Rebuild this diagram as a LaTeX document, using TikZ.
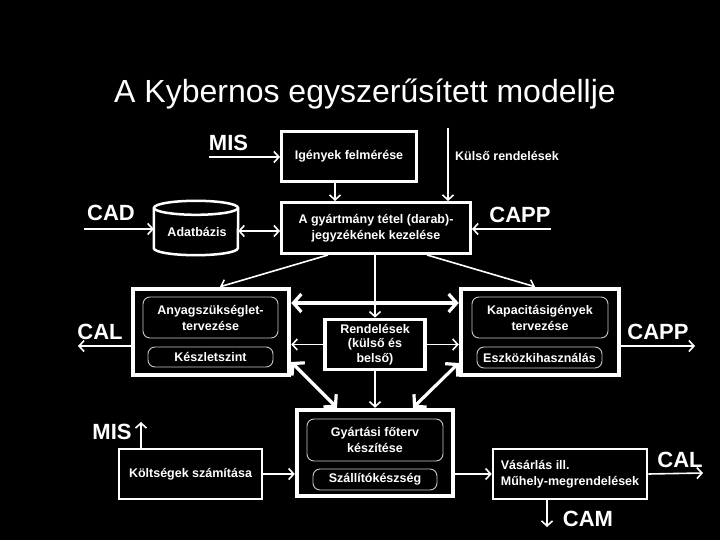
\documentclass[tikz,border=0pt]{standalone}
\usepackage{fontspec}
\setmainfont{Liberation Sans}
\usetikzlibrary{arrows.meta}
\definecolor{KBInner}{HTML}{C8C8C8}

\tikzset{
  kbtext/.style={text=white,font=\bfseries\fontsize{12.5}{16}\selectfont,align=center,inner sep=0pt},
  kbbox/.style={kbtext,draw=white,line width=3pt},
  kbbig/.style={draw=white,line width=4.5pt,inner sep=0pt},
  kbinner/.style={kbtext,draw=KBInner,line width=0.9pt,rounded corners=7pt},
  kblabel/.style={text=white,font=\bfseries\fontsize{22}{24}\selectfont,inner sep=0pt},
  kbarrow/.style={white,line width=1.6pt,-{Straight Barb[length=5pt,width=11pt]}},
  kbdouble/.style={white,line width=1.6pt,{Straight Barb[length=5pt,width=11pt]}-{Straight Barb[length=5pt,width=11pt]}},
  kbthick/.style={white,line width=3.2pt,{Straight Barb[length=8pt,width=18pt]}-{Straight Barb[length=8pt,width=18pt]}},
}

\begin{document}
\begin{tikzpicture}[x=1pt,y=-1pt]
\fill[black] (0,0) rectangle (720,540);
\useasboundingbox (0,0) rectangle (720,540);

% title
\node[text=white,font=\fontsize{32}{36}\selectfont,anchor=base,inner sep=0pt] (title) at (365,103) {A Kybernos egyszerűsített modellje};

% upper row
\node[kbbox,minimum width=135pt,minimum height=50pt] (igeny) at (349,156.5) {Igények felmérése};
\node[kbbox,minimum width=189pt,minimum height=51pt] (bom) at (376,228) {A gyártmány tétel (darab)-\\jegyzékének kezelése};
\node[minimum width=84pt,minimum height=40pt,inner sep=0pt] (db) at (196,228) {};
\draw[white,line width=2.5pt] (db.north west) -- (db.south west)
  arc[start angle=180,end angle=360,x radius=42pt,y radius=7pt] -- (db.north east);
\draw[white,line width=2.5pt] (db.north) ellipse[x radius=42pt,y radius=7pt];
\node[kbtext] (dbtext) at (197,232) {Adatbázis};
\node[kbtext,anchor=west] (kulso) at (455,156) {Külső rendelések};

% middle row
\node[kbbig,minimum width=156pt,minimum height=86pt] (anyag) at (211,332) {};
\node[kbinner,minimum width=135pt,minimum height=41pt] (anyagterv) at (210.5,317.5) {Anyagszükséglet-\\tervezése};
\node[kbinner,minimum width=125pt,minimum height=20pt] (keszlet) at (210.5,357) {Készletszint};
\node[kbbig,minimum width=158pt,minimum height=86pt] (kapac) at (540,332) {};
\node[kbinner,minimum width=136pt,minimum height=41pt] (kapacterv) at (540,317.5) {Kapacitásigények\\tervezése};
\node[kbinner,minimum width=125pt,minimum height=21pt] (eszkoz) at (539.5,357.5) {Eszközkihasználás};
\node[kbbox,line width=3.8pt,minimum width=100pt,minimum height=50pt,font=\bfseries\fontsize{12.5}{14.5}\selectfont] (rend) at (375,344.5) {Rendelések\\(külső és\\belső)};

% lower row
\node[kbbig,minimum width=156pt,minimum height=86pt] (foterv) at (375,453) {};
\node[kbinner,minimum width=136pt,minimum height=42pt] (fotervterv) at (375,440) {Gyártási főterv\\készítése};
\node[kbinner,minimum width=124pt,minimum height=21pt] (szallit) at (375,479.5) {Szállítókészség};
\node[kbbox,line width=2.6pt,minimum width=143pt,minimum height=50pt] (kolts) at (190.5,474) {Költségek számítása};
\node[kbbox,line width=2.6pt,minimum width=154pt,minimum height=50pt,align=left] (vasar) at (570,474) {Vásárlás ill.\\Műhely-megrendelések};

% system labels
\node[kblabel] (mis1) at (228.5,143) {MIS};
\node[kblabel] (cad) at (111,213) {CAD};
\node[kblabel] (capp1) at (520,215) {CAPP};
\node[kblabel] (cal1) at (100,332) {CAL};
\node[kblabel] (capp2) at (658,332) {CAPP};
\node[kblabel] (mis2) at (112,432) {MIS};
\node[kblabel] (cal2) at (680,460) {CAL};
\node[kblabel] (cam) at (588,519) {CAM};

\coordinate (c-mis1) at (209,157);
\coordinate (c-cad) at (84,229);
\coordinate (c-capp1) at (551,229);
\coordinate (c-kulso) at (448,128);
\coordinate (c-cal1) at (78,346);
\coordinate (c-capp2) at (695,346);
\coordinate (c-mis2) at (141,422);
\coordinate (c-cal2) at (703,473);
\coordinate (c-cam) at (547,527);

% connectors
\draw[kbarrow] (c-mis1) -- (c-mis1 -| igeny.west);
\draw[kbarrow] ([xshift=-14pt]igeny.south) -- ([xshift=-14pt]igeny.south |- bom.north);
\draw[kbarrow] (c-kulso) -- (c-kulso |- bom.north);
\draw[kbarrow] (c-cad) -- (c-cad -| db.west);
\draw[kbdouble] ([yshift=-3pt]db.east) -- ([yshift=-3pt]db.east -| bom.west);
\draw[kbarrow] (c-capp1) -- (c-capp1 -| bom.east);
\draw[kbarrow] ([xshift=-48pt]bom.south) -- ([xshift=9pt]anyag.north);
\draw[kbarrow] ([xshift=51pt]bom.south) -- ([xshift=-5pt]kapac.north);
\draw[kbarrow] (rend.north |- bom.south) -- (rend.north);
\draw[kbthick] ([yshift=29pt]anyag.east) -- ([yshift=29pt]kapac.west);
\draw[kbarrow] (rend.west) -- (rend.west -| anyag.east);
\draw[kbarrow] (rend.east) -- (rend.east -| kapac.west);
\draw[kbarrow] (c-cal1 -| anyag.west) -- (c-cal1);
\draw[kbarrow] (c-capp2 -| kapac.east) -- (c-capp2);
\draw[kbthick] ([yshift=-30pt]anyag.east) -- ([xshift=-38pt]foterv.north);
\draw[kbthick] ([yshift=-31pt]kapac.west) -- ([xshift=38pt]foterv.north);
\draw[kbarrow] (rend.south) -- (rend.south |- foterv.north);
\draw[kbarrow] ([xshift=-49.5pt]kolts.north) -- (c-mis2);
\draw[kbarrow] (kolts.east) -- (kolts.east -| foterv.west);
\draw[kbarrow] (vasar.west -| foterv.east) -- (vasar.west);
\draw[kbarrow] (vasar.east) -- (c-cal2);
\draw[kbarrow] (c-cam |- vasar.south) -- (c-cam);
\end{tikzpicture}
\end{document}
